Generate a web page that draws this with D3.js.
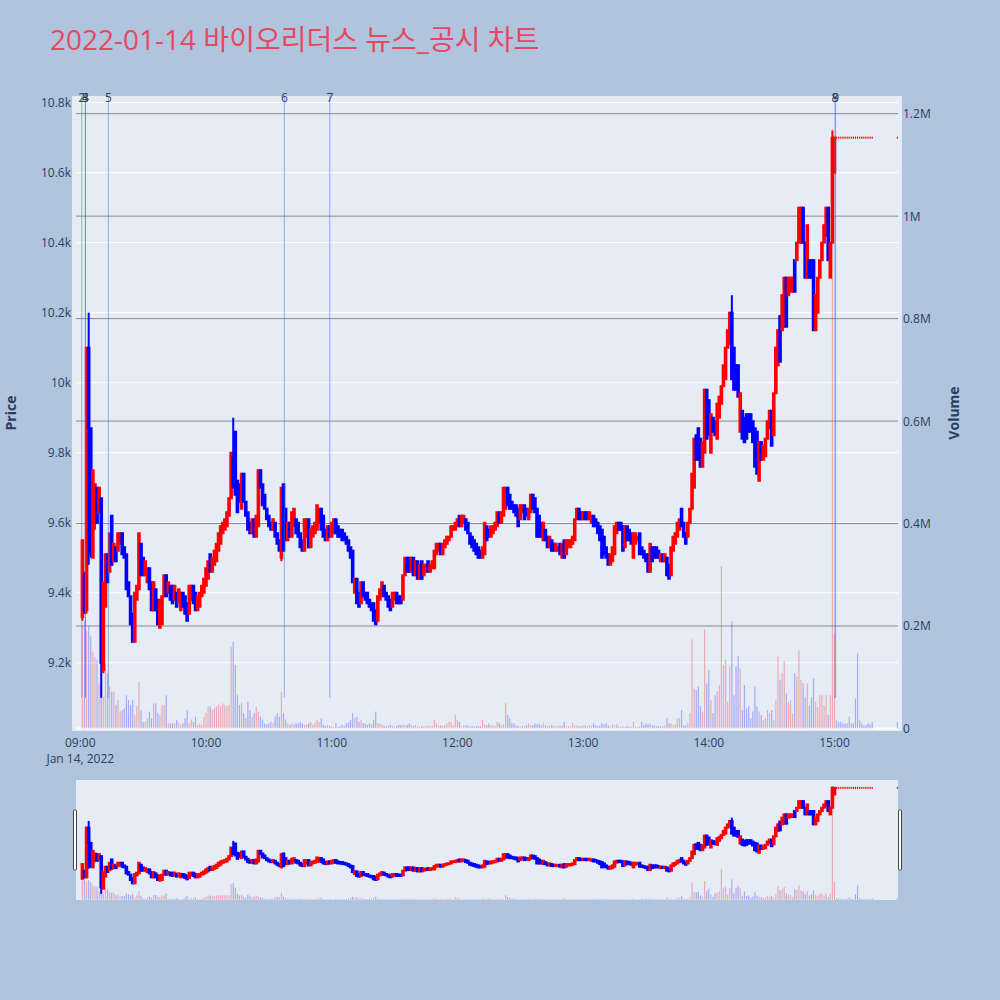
<!DOCTYPE html>
<html><head><meta charset="utf-8">
<script src="https://cdn.jsdelivr.net/npm/d3@7"></script>
<style>body{margin:0;background:#b0c4de;} svg{display:block;}</style>
</head><body>
<svg id="chart" width="1000" height="1000"></svg>
<script>
// ---------------- data ----------------
const chartTitle = "2022-01-14 바이오리더스 뉴스_공시 차트";
const sessionStart = "2022-01-14 09:00:00";
// minute offsets from 09:00 of each 1-minute candle (09:01 .. 15:18, then 15:30 closing)
const minuteOffsets = d3.range(1, 379).concat([390]);

const opens = [
9330,9450,9350,10100,9870,9500,9600,9700,9630,9670, 9180,9360,9510,9460,9620,9490,9530,9520,9540,9570,
9530,9510,9430,9390,9340,9260,9380,9410,9540,9500, 9450,9430,9470,9430,9350,9410,9380,9300,9310,9390,
9450,9400,9420,9420,9380,9400,9370,9350,9400,9390, 9370,9340,9380,9420,9400,9350,9360,9390,9400,9420,
9440,9510,9460,9480,9490,9520,9540,9570,9580,9590, 9620,9670,9790,9860,9720,9710,9640,9740,9660,9630,
9600,9570,9610,9560,9590,9750,9710,9680,9640,9620, 9600,9580,9600,9570,9550,9500,9710,9640,9550,9600,
9560,9590,9610,9600,9570,9550,9520,9560,9610,9530, 9560,9570,9580,9600,9640,9620,9580,9550,9590,9560,
9570,9610,9590,9580,9580,9570,9560,9550,9530,9520, 9400,9440,9400,9370,9430,9400,9400,9380,9370,9370,
9350,9320,9380,9390,9420,9400,9390,9380,9360,9380, 9400,9390,9390,9380,9450,9500,9500,9460,9500,9450,
9490,9440,9490,9450,9460,9490,9460,9470,9470,9510, 9520,9540,9510,9530,9540,9550,9560,9580,9580,9590,
9620,9590,9600,9610,9600,9570,9560,9550,9540,9530, 9520,9500,9510,9590,9580,9560,9570,9580,9590,9630,
9600,9620,9640,9700,9680,9660,9650,9650,9640,9610, 9630,9650,9640,9610,9630,9680,9670,9640,9620,9600,
9550,9580,9560,9530,9550,9540,9520,9520,9540,9500, 9550,9510,9530,9530,9540,9550,9610,9640,9630,9610,
9630,9630,9610,9600,9620,9610,9600,9590,9580,9560, 9530,9510,9480,9490,9510,9570,9600,9600,9590,9530,
9590,9580,9570,9500,9540,9550,9570,9530,9520,9510, 9510,9460,9530,9530,9530,9520,9490,9510,9490,9500,
9480,9450,9520,9540,9560,9580,9640,9600,9570,9560, 9600,9640,9700,9850,9870,9840,9760,9800,9980,9950,
9800,9900,9890,9840,9900,9940,9990,10010,10100,10110, 10200,10100,10050,10050,9860,9920,9900,9910,9910,9910,
9890,9870,9860,9720,9830,9780,9790,9840,9870,9920, 9850,9970,10050,10190,10150,10160,10300,10250,10260,10260,
10350,10350,10400,10400,10500,10400,10300,10350,10350,10350, 10150,10200,10300,10350,10400,10420,10500,10300,10400,10600,
10700,10700,10700,10700,10700,10700,10700,10700,10700,10700, 10700,10700,10700,10700,10700,10700,10700,10700,10700];

const closes = [
9550,9350,10100,9870,9510,9750,9710,9600,9700,9200, 9430,9510,9430,9570,9480,9540,9490,9570,9570,9510,
9500,9410,9390,9310,9260,9400,9420,9570,9450,9450, 9490,9470,9410,9350,9430,9350,9310,9380,9390,9450,
9390,9430,9380,9370,9420,9360,9410,9400,9360,9340, 9320,9420,9420,9370,9350,9390,9400,9420,9440,9470,
9490,9460,9500,9520,9540,9570,9590,9600,9610,9630, 9670,9800,9700,9680,9630,9660,9740,9660,9620,9580,
9570,9610,9560,9620,9750,9700,9650,9640,9610,9590, 9580,9610,9560,9540,9520,9700,9520,9550,9600,9560,
9630,9640,9570,9560,9530,9520,9610,9610,9530,9580, 9590,9600,9650,9640,9580,9560,9550,9590,9560,9600,
9610,9570,9560,9560,9550,9550,9540,9520,9500,9430, 9440,9370,9360,9430,9390,9380,9370,9360,9350,9320,
9310,9390,9410,9430,9390,9380,9360,9350,9400,9400, 9370,9370,9370,9450,9500,9460,9460,9500,9450,9490,
9440,9480,9440,9480,9480,9460,9480,9490,9520,9540, 9540,9510,9540,9550,9560,9560,9590,9590,9600,9610,
9590,9620,9620,9580,9570,9540,9530,9520,9510,9500, 9500,9530,9600,9550,9560,9590,9590,9600,9630,9600,
9630,9700,9700,9650,9640,9640,9630,9620,9590,9650, 9650,9610,9620,9640,9680,9640,9630,9560,9560,9560,
9600,9550,9530,9560,9520,9520,9540,9530,9510,9540, 9500,9550,9550,9550,9560,9610,9640,9610,9610,9630,
9610,9610,9630,9620,9590,9590,9570,9550,9500,9510, 9500,9480,9510,9530,9590,9600,9580,9580,9520,9590,
9550,9550,9540,9570,9570,9560,9510,9510,9500,9490, 9460,9540,9490,9500,9500,9500,9510,9490,9510,9450,
9440,9530,9560,9570,9600,9610,9590,9560,9540,9600, 9640,9740,9840,9780,9780,9760,9830,9980,9840,9850,
9910,9860,9850,9940,9960,9990,10050,10100,10150,10200, 10010,9980,9980,9960,9970,9840,9830,9840,9860,9860,
9830,9760,9740,9830,9780,9820,9840,9890,9920,9820, 9970,10100,10150,10060,10250,10300,10160,10300,10300,10300,
10260,10400,10500,10500,10400,10300,10450,10300,10300,10150, 10250,10300,10350,10400,10450,10500,10350,10400,10700,10700,
10700,10700,10700,10700,10700,10700,10700,10700,10700,10700, 10700,10700,10700,10700,10700,10700,10700,10700,10700];

const highs = [
9550,9460,10100,10200,9870,9750,9710,9700,9700,9670, 9430,9510,9510,9570,9620,9540,9530,9570,9570,9570,
9530,9510,9430,9390,9340,9400,9420,9570,9540,9500, 9490,9470,9470,9430,9430,9410,9380,9380,9390,9450,
9450,9430,9420,9420,9420,9400,9410,9400,9400,9390, 9370,9420,9420,9420,9400,9390,9400,9420,9440,9470,
9490,9510,9500,9520,9540,9570,9590,9600,9610,9630, 9670,9800,9900,9860,9720,9710,9740,9740,9660,9630,
9600,9610,9610,9620,9750,9750,9710,9680,9640,9620, 9600,9610,9600,9570,9550,9700,9710,9640,9600,9600,
9630,9640,9610,9600,9570,9550,9610,9610,9610,9580, 9590,9600,9650,9640,9640,9620,9580,9590,9590,9600,
9610,9610,9590,9580,9580,9570,9560,9550,9530,9520, 9440,9440,9400,9430,9430,9400,9400,9380,9370,9370,
9350,9390,9410,9430,9420,9400,9390,9380,9400,9400, 9400,9390,9390,9450,9500,9500,9500,9500,9500,9490,
9490,9480,9490,9480,9480,9490,9480,9490,9520,9540, 9540,9540,9540,9550,9560,9560,9590,9590,9600,9610,
9620,9620,9620,9610,9600,9570,9560,9550,9540,9530, 9520,9530,9600,9590,9580,9590,9590,9600,9630,9630,
9630,9700,9700,9700,9680,9660,9650,9650,9640,9650, 9650,9650,9640,9640,9680,9680,9670,9640,9620,9600,
9600,9580,9560,9560,9550,9540,9540,9530,9540,9540, 9550,9550,9550,9550,9560,9610,9640,9640,9630,9630,
9630,9630,9630,9620,9620,9610,9600,9590,9580,9560, 9530,9510,9510,9530,9590,9600,9600,9600,9590,9590,
9590,9580,9570,9570,9570,9560,9570,9530,9520,9510, 9510,9540,9530,9530,9530,9520,9510,9510,9510,9500,
9480,9530,9560,9570,9600,9610,9640,9600,9570,9600, 9640,9740,9840,9850,9870,9840,9830,9980,9980,9950,
9910,9900,9890,9940,9960,9990,10050,10100,10150,10200, 10250,10100,10050,10050,9970,9920,9900,9910,9910,9910,
9890,9870,9860,9830,9830,9820,9840,9890,9920,9920, 9970,10100,10150,10190,10250,10300,10300,10300,10300,10300,
10350,10400,10500,10500,10500,10400,10450,10350,10350,10350, 10250,10300,10350,10400,10450,10500,10500,10400,10720,10700,
10700,10700,10700,10700,10700,10700,10700,10700,10700,10700, 10700,10700,10700,10700,10700,10700,10700,10700,10700];

const lows = [
9320,9340,9340,9480,9500,9500,9580,9600,9630,9100, 9170,9360,9430,9460,9480,9490,9490,9520,9540,9510,
9500,9410,9390,9310,9260,9260,9380,9410,9450,9450, 9450,9430,9410,9350,9350,9350,9310,9300,9310,9390,
9390,9400,9380,9370,9380,9360,9370,9350,9360,9340, 9320,9340,9380,9370,9350,9350,9360,9390,9400,9420,
9440,9460,9460,9480,9490,9520,9540,9570,9580,9590, 9620,9670,9700,9680,9630,9660,9640,9660,9620,9580,
9570,9570,9560,9560,9590,9700,9650,9640,9610,9590, 9580,9580,9560,9540,9520,9490,9520,9550,9550,9560,
9560,9590,9570,9560,9530,9520,9520,9560,9530,9530, 9560,9570,9580,9600,9580,9560,9550,9550,9560,9560,
9570,9570,9560,9560,9550,9550,9540,9520,9500,9430, 9400,9370,9360,9370,9390,9380,9370,9360,9350,9320,
9310,9320,9380,9390,9390,9380,9360,9350,9360,9380, 9370,9370,9370,9380,9450,9460,9460,9460,9450,9450,
9440,9440,9440,9450,9460,9460,9460,9470,9470,9510, 9520,9510,9510,9530,9540,9550,9560,9580,9580,9590,
9590,9590,9600,9580,9570,9540,9530,9520,9510,9500, 9500,9500,9510,9550,9560,9560,9570,9580,9590,9600,
9600,9620,9640,9650,9640,9640,9630,9620,9590,9610, 9630,9610,9620,9610,9630,9640,9630,9560,9560,9560,
9550,9550,9530,9530,9520,9520,9520,9520,9510,9500, 9500,9510,9530,9530,9540,9550,9610,9610,9610,9610,
9610,9610,9610,9600,9590,9590,9570,9550,9500,9510, 9500,9480,9480,9490,9510,9570,9580,9580,9520,9530,
9550,9550,9540,9500,9540,9550,9510,9510,9500,9490, 9460,9460,9490,9500,9500,9500,9490,9490,9490,9450,
9440,9450,9520,9540,9560,9580,9590,9560,9540,9560, 9600,9640,9700,9780,9780,9760,9760,9800,9840,9850,
9800,9860,9850,9840,9900,9940,9990,10010,10100,10110, 10010,9980,9980,9960,9860,9840,9830,9840,9860,9860,
9830,9760,9740,9720,9780,9780,9790,9840,9870,9820, 9850,9970,10050,10060,10150,10160,10160,10250,10260,10260,
10260,10350,10400,10400,10400,10300,10300,10300,10300,10150, 10150,10200,10300,10350,10400,10420,10350,10300,10400,10600,
10700,10700,10700,10700,10700,10700,10700,10700,10700,10700, 10700,10700,10700,10700,10700,10700,10700,10700,10700];

// traded volume per minute, in thousands of shares
const volumesK = [
200,210,190,200,180,150,140,134,88,127, 62,127,108,82,72,72,46,56,33,36,
39,65,56,46,56,26,43,91,36,13, 13,20,33,20,49,49,30,26,46,46,
65,10,10,10,10,17,10,7,10,20, 36,10,17,13,23,7,10,7,23,30,
43,43,36,39,43,46,43,49,46,43, 46,160,169,124,65,46,50,30,20,52,
36,23,30,43,33,23,17,10,8,10, 13,10,23,30,23,72,30,17,10,7,
10,8,10,10,13,10,7,8,10,13, 7,10,17,12,20,7,5,7,5,4,
3,10,3,5,7,5,10,12,17,30, 20,23,13,17,10,10,7,10,8,17,
33,10,10,7,5,4,5,7,5,4, 5,7,7,8,6,7,10,7,5,7,
4,3,5,4,6,4,5,5,17,10, 6,6,5,6,10,13,13,6,26,17,
13,4,6,6,6,4,5,4,4,5, 4,17,8,6,10,6,6,5,13,10,
6,8,50,26,20,10,10,6,5,4, 5,4,6,10,6,6,10,8,9,6,
10,6,4,5,6,5,4,5,5,6, 13,4,5,4,10,6,6,5,4,6,
6,4,6,5,10,6,4,6,10,8, 10,6,4,8,6,8,4,3,4,3,
5,4,3,13,4,3,4,13,6,10, 8,10,6,6,4,5,5,4,6,20,
10,10,6,8,20,20,36,6,6,10, 30,174,78,75,82,43,33,193,88,114,
56,30,65,72,85,317,124,134,52,121, 210,65,121,142,117,36,85,39,43,20,
33,82,43,33,26,16,20,36,30,36, 16,56,141,95,108,131,68,52,55,29,
108,101,153,95,88,61,88,45,61,98, 52,42,65,65,45,65,26,65,1170,186,
16,12,13,10,10,10,23,10,10,58, 146,16,10,6,6,10,8,13,13];

// news / disclosure markers
const newsLabels = ["2","3","4","5","6","7","8","9"];
const newsTimes = ["09:00:42","09:02:24","09:02:30","09:13:24","10:37:24","10:59:06","15:00:12","15:00:30"];

const priceTicks = [9200,9400,9600,9800,10000,10200,10400,10600,10800];
const priceTickLabels = ["9.2k","9.4k","9.6k","9.8k","10k","10.2k","10.4k","10.6k","10.8k"];
const volumeTicks = [0,200000,400000,600000,800000,1000000,1200000];
const volumeTickLabels = ["0","0.2M","0.4M","0.6M","0.8M","1M","1.2M"];
const timeTicks = ["09:00","10:00","11:00","12:00","13:00","14:00","15:00"];

// ---------------- layout ----------------
const FONT = "'Open Sans', 'Noto Sans CJK KR', sans-serif";
const plot = {left:76, right:898, top:96, bottom:730};
const rs = {top:780, bottom:900};
const parseFull = d3.timeParse("%Y-%m-%d %H:%M:%S");
const t0 = parseFull(sessionStart);
const day = sessionStart.slice(0,10);
const atMinute = m => new Date(+t0 + m*60000);
const parseClock = s => parseFull(day + " " + (s.length === 5 ? s + ":00" : s));

const candles = minuteOffsets.map((m,i) => ({
  t: atMinute(m), o: opens[i], h: highs[i], l: lows[i], c: closes[i], v: volumesK[i]*1000
}));

const x = d3.scaleTime().domain([atMinute(-2.05), atMinute(390.3)]).range([plot.left, plot.right]);
const yP = d3.scaleLinear().domain([9008, 10819]).range([plot.bottom, plot.top]);
const yV = d3.scaleLinear().domain([-3000, 1234500]).range([plot.bottom, plot.top]);
const yPs = yP.copy().range([rs.bottom, rs.top]);
const yVs = yV.copy().range([rs.bottom, rs.top]);

const svg = d3.select("#chart");
svg.append("rect").attr("width",1000).attr("height",1000).attr("fill","#b0c4de");

// title
svg.append("text").attr("x",50).attr("y",50)
  .attr("font-family",FONT).attr("font-size",28).attr("fill","#e8485f")
  .text(chartTitle);

// plot background
svg.append("rect").attr("x",plot.left-4).attr("y",plot.top)
  .attr("width",plot.right-plot.left+8).attr("height",plot.bottom-plot.top+1).attr("fill","#e5ecf6");

// price grid (white)
svg.append("g").selectAll("line").data(priceTicks).join("line")
  .attr("x1",plot.left).attr("x2",plot.right)
  .attr("y1",d=>yP(d)).attr("y2",d=>yP(d))
  .attr("stroke","#fff").attr("stroke-width",1);
// volume grid (grey)
svg.append("g").selectAll("line").data(volumeTicks.filter(d=>d>0)).join("line")
  .attr("x1",plot.left).attr("x2",plot.right)
  .attr("y1",d=>yV(d)).attr("y2",d=>yV(d))
  .attr("stroke","#8a8a8a").attr("stroke-width",1);
svg.append("line").attr("x1",plot.left).attr("x2",plot.right)
  .attr("y1",yV(0)).attr("y2",yV(0)).attr("stroke","#fff").attr("stroke-width",2);

const red = "#ff0000", blue = "#0000ff";

function drawVolume(g, ys) {
  g.selectAll("rect").data(candles).join("rect")
    .attr("x", d => x(d.t) - 0.6).attr("width", 1.2)
    .attr("y", d => ys(d.v)).attr("height", d => ys(0) - ys(d.v))
    .attr("fill", d => d.c > d.o ? red : blue).attr("fill-opacity", 0.28);
}
function drawCandles(g, ys) {
  const cg = g.selectAll("g").data(candles).join("g");
  cg.filter(d => d.h > Math.max(d.o,d.c) || d.l < Math.min(d.o,d.c))
    .append("line")
    .attr("x1", d => x(d.t)).attr("x2", d => x(d.t))
    .attr("y1", d => ys(d.h)).attr("y2", d => ys(d.l))
    .attr("stroke", d => d.c >= d.o ? red : blue).attr("stroke-width", 2);
  cg.filter(d => d.o !== d.c).append("rect")
    .attr("x", d => x(d.t) - 0.8).attr("width", 1.6)
    .attr("y", d => ys(Math.max(d.o,d.c)))
    .attr("height", d => Math.abs(ys(d.o) - ys(d.c)))
    .attr("fill", d => d.c > d.o ? red : blue)
    .attr("stroke", d => d.c > d.o ? red : blue).attr("stroke-width", 2);
  cg.filter(d => d.o === d.c).append("rect")
    .attr("x", d => x(d.t) - 0.6).attr("width", 1.2)
    .attr("y", d => ys(d.c) - 1).attr("height", 2)
    .attr("fill", red);
}

const clipId = "plotclip";
svg.append("clipPath").attr("id",clipId).append("rect")
  .attr("x",plot.left).attr("y",plot.top).attr("width",plot.right-plot.left).attr("height",plot.bottom-plot.top);
const main = svg.append("g").attr("clip-path",`url(#${clipId})`);
drawVolume(main.append("g"), yV);
drawCandles(main.append("g"), yP);

// news lines
const news = newsTimes.map((s,i) => ({t: parseClock(s), label: newsLabels[i]}));
const lowest = d3.min(lows);
svg.append("g").selectAll("line").data(news).join("line")
  .attr("x1", d => x(d.t)).attr("x2", d => x(d.t))
  .attr("y1", yP(lowest)).attr("y2", plot.top)
  .attr("stroke","royalblue").attr("stroke-opacity",0.5).attr("stroke-width",1);
svg.append("g").selectAll("text").data(news).join("text")
  .attr("x", d => x(d.t)).attr("y", plot.top + 1)
  .attr("text-anchor","middle").attr("dominant-baseline","central")
  .attr("font-family",FONT).attr("font-size",12).attr("fill","#2a3f5f")
  .text(d => d.label);

// axes labels
const tickFont = sel => sel.attr("font-family",FONT).attr("font-size",12).attr("fill","#2a3f5f");
svg.append("g").selectAll("text").data(priceTicks).join("text")
  .attr("x",71).attr("y",d=>yP(d)).attr("text-anchor","end").attr("dominant-baseline","central")
  .call(tickFont).text((d,i)=>priceTickLabels[i]);
svg.append("g").selectAll("text").data(volumeTicks).join("text")
  .attr("x",903).attr("y",d=>yV(d)).attr("text-anchor","start").attr("dominant-baseline","central")
  .call(tickFont).text((d,i)=>volumeTickLabels[i]);
svg.append("g").selectAll("text").data(timeTicks).join("text")
  .attr("x",d=>x(parseClock(d))).attr("y",746.5).attr("text-anchor","middle")
  .call(tickFont).text(d=>d);
svg.append("text").attr("x",x(parseClock(timeTicks[0]))).attr("y",762.5).attr("text-anchor","middle")
  .call(tickFont).text(d3.timeFormat("%b %-d, %Y")(t0));

svg.append("text").attr("transform","translate(10,413) rotate(-90)")
  .attr("text-anchor","middle").attr("dominant-baseline","central")
  .attr("font-family",FONT).attr("font-size",14).attr("font-weight","bold").attr("fill","#2a3f5f")
  .text("Price");
svg.append("text").attr("transform","translate(953,413) rotate(-90)")
  .attr("text-anchor","middle").attr("dominant-baseline","central")
  .attr("font-family",FONT).attr("font-size",14).attr("font-weight","bold").attr("fill","#2a3f5f")
  .text("Volume");

// range slider
svg.append("rect").attr("x",plot.left).attr("y",rs.top)
  .attr("width",plot.right-plot.left).attr("height",rs.bottom-rs.top).attr("fill","#e5ecf6");
svg.append("clipPath").attr("id","rsclip").append("rect")
  .attr("x",plot.left).attr("y",rs.top).attr("width",plot.right-plot.left).attr("height",rs.bottom-rs.top);
const rsg = svg.append("g").attr("clip-path","url(#rsclip)");
drawVolume(rsg.append("g"), yVs);
drawCandles(rsg.append("g"), yPs);
[plot.left-2.5, plot.right+0.5].forEach(hx => {
  svg.append("rect").attr("x",hx).attr("y",810).attr("width",3).attr("height",60)
    .attr("rx",1).attr("fill","#fff").attr("stroke","#444").attr("stroke-width",1);
});
</script>
</body></html>
